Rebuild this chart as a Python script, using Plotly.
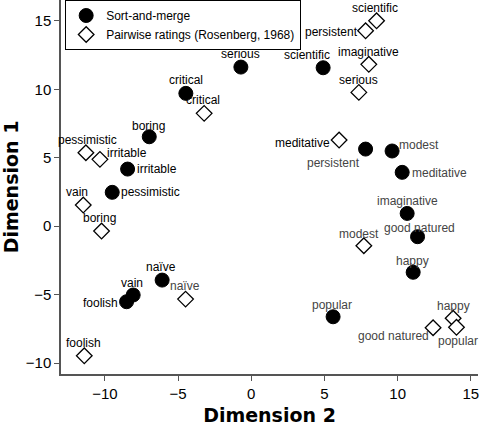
import plotly.graph_objects as go

# trait words, MDS coordinates (dimension 2 on x, dimension 1 on y)
sort_words = ['serious', 'scientific', 'critical', 'boring', 'irritable',
              'pessimistic', 'persistent', 'modest', 'meditative',
              'imaginative', 'good natured', 'happy', 'popular', 'naïve',
              'vain', 'foolish']
sort_dim2 = [-0.71, 4.91, -4.47, -6.97, -8.45, -9.50, 7.81, 9.62, 10.31,
             10.65, 11.36, 11.06, 5.59, -6.09, -8.07, -8.52]
sort_dim1 = [11.62, 11.57, 9.70, 6.53, 4.17, 2.47, 5.63, 5.49, 3.93,
             0.93, -0.77, -3.37, -6.62, -3.94, -5.03, -5.52]

pair_words = ['scientific', 'persistent', 'imaginative', 'serious',
              'meditative', 'critical', 'pessimistic', 'irritable', 'vain',
              'boring', 'naïve', 'foolish', 'modest', 'good natured',
              'happy', 'popular']
pair_dim2 = [8.56, 7.81, 8.03, 7.35, 6.00, -3.22, -11.30, -10.34, -11.48,
             -10.23, -4.49, -11.41, 7.69, 12.42, 13.79, 14.02]
pair_dim1 = [15.00, 14.27, 11.82, 9.77, 6.29, 8.24, 5.36, 4.88, 1.54,
             -0.36, -5.33, -9.47, -1.43, -7.42, -6.73, -7.39]

# label placement: (anchor, xshift, yshift, colour) per word
BLK = 'black'
GRY = '#444444'
sort_lab = [('center', 0, 13, BLK), ('center', -16, 13, BLK),
            ('center', 0, 13, BLK), ('center', -1, 11, BLK),
            ('left', 7, 0, BLK), ('left', 7, 0, BLK),
            ('center', -32, -14, GRY), ('left', 5, 6, GRY),
            ('left', 8, -1, GRY), ('center', 0, 12, GRY),
            ('center', 2, 9, GRY), ('center', -1, 11, GRY),
            ('center', -1, 12, GRY), ('center', -1, 13, BLK),
            ('center', -1, 12, BLK), ('right', -7, -1, BLK)]
pair_lab = [('center', -2, 13, BLK), ('right', -6, -1, BLK),
            ('center', 0, 12, BLK), ('center', 0, 12, BLK),
            ('right', -7, -3, BLK), ('center', -1, 13, BLK),
            ('center', 2, 13, BLK), ('left', 5, 6, BLK),
            ('center', -6, 13, BLK), ('center', -2, 13, BLK),
            ('center', -1, 13, GRY), ('center', -1, 13, BLK),
            ('center', -5, 12, GRY), ('right', -2, -8, GRY),
            ('center', 0, 12, GRY), ('center', 2, -14, GRY)]

fig = go.Figure()

fig.add_trace(go.Scatter(
    x=sort_dim2, y=sort_dim1, mode='markers', name='Sort-and-merge',
    marker=dict(symbol='circle', size=14, color='black',
                line=dict(color='black', width=1))))

fig.add_trace(go.Scatter(
    x=pair_dim2, y=pair_dim1, mode='markers',
    name='Pairwise ratings (Rosenberg, 1968)',
    marker=dict(symbol='diamond', size=12, color='white',
                line=dict(color='black', width=1.3))))

annotations = []
for words, xs, ys, labs in [(sort_words, sort_dim2, sort_dim1, sort_lab),
                            (pair_words, pair_dim2, pair_dim1, pair_lab)]:
    for w, x, y, (anc, dx, dy, col) in zip(words, xs, ys, labs):
        annotations.append(dict(
            x=x, y=y, text=w, showarrow=False, xanchor=anc, yanchor='middle',
            xshift=dx, yshift=dy,
            font=dict(family='Liberation Sans', size=12, color=col)))

axis_style = dict(showline=True, linecolor='#555555', linewidth=1.5,
                  ticks='outside', ticklen=5, tickcolor='#555555',
                  showgrid=False, zeroline=False, mirror=False,
                  automargin=False,
                  tickfont=dict(family='Liberation Sans', size=15,
                                color='black'))

fig.update_xaxes(range=[-13.0, 15.49], tickvals=[-10, -5, 0, 5, 10, 15],
                 title=dict(text='Dimension 2', standoff=8,
                            font=dict(family='DejaVu Sans', size=19,
                                      color='black', weight='bold')),
                 **axis_style)
fig.update_yaxes(range=[-10.8, 16.52], tickvals=[-10, -5, 0, 5, 10, 15],
                 title=dict(text='Dimension 1', standoff=8,
                            font=dict(family='DejaVu Sans', size=19,
                                      color='black', weight='bold')),
                 **axis_style)

fig.update_layout(
    width=480, height=428,
    margin=dict(l=61, r=2, t=0, b=54),
    paper_bgcolor='white', plot_bgcolor='white',
    annotations=annotations,
    legend=dict(x=0.01, y=1, xanchor='left', yanchor='top',
                bordercolor='black', borderwidth=1, bgcolor='white',
                font=dict(family='Liberation Sans', size=12, color='black'),
                itemwidth=30, tracegroupgap=0),
    showlegend=True,
)

# drop the browser's default page margin so the figure sits at 0,0
fig.write_html("out.html", config={'displayModeBar': False},
               post_script="document.body.style.margin='0';")
